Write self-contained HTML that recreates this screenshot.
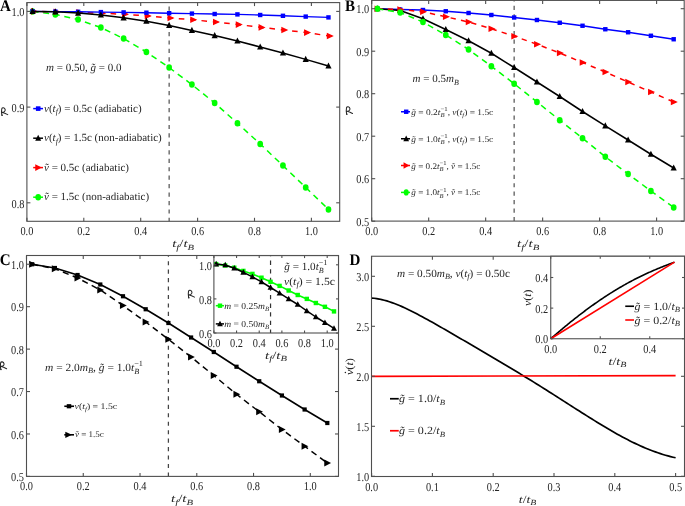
<!DOCTYPE html>
<html><head><meta charset="utf-8"><style>html,body{margin:0;padding:0;background:#fff;overflow:hidden}svg{display:block}</style></head>
<body><svg width="685" height="506" viewBox="0 0 685 506" text-rendering="geometricPrecision"><defs><filter id="bl" x="0" y="0" width="1" height="1" filterUnits="objectBoundingBox"><feGaussianBlur stdDeviation="0.4"/></filter></defs><g filter="url(#bl)">
<rect width="685" height="506" fill="#fff"/>
<line x1="169.15" y1="2.60" x2="169.15" y2="221.30" stroke="#555" stroke-width="1.25" stroke-dasharray="4.2,4.25" stroke-dashoffset="4.45" />
<polyline points="32.59,11.40 55.35,14.40 78.11,19.50 100.87,27.60 123.63,38.60 146.39,52.00 169.15,67.60 191.91,84.60 214.67,103.00 237.43,123.20 260.19,144.00 282.95,165.60 305.71,187.40 328.47,209.40" fill="none" stroke="#00ff00" stroke-width="1.5" stroke-dasharray="6,4.7" stroke-dashoffset="0.0" stroke-linejoin="round"/>
<ellipse cx="32.59" cy="11.40" rx="2.85" ry="3.25" fill="#00ff00"/>
<ellipse cx="55.35" cy="14.40" rx="2.85" ry="3.25" fill="#00ff00"/>
<ellipse cx="78.11" cy="19.50" rx="2.85" ry="3.25" fill="#00ff00"/>
<ellipse cx="100.87" cy="27.60" rx="2.85" ry="3.25" fill="#00ff00"/>
<ellipse cx="123.63" cy="38.60" rx="2.85" ry="3.25" fill="#00ff00"/>
<ellipse cx="146.39" cy="52.00" rx="2.85" ry="3.25" fill="#00ff00"/>
<ellipse cx="169.15" cy="67.60" rx="2.85" ry="3.25" fill="#00ff00"/>
<ellipse cx="191.91" cy="84.60" rx="2.85" ry="3.25" fill="#00ff00"/>
<ellipse cx="214.67" cy="103.00" rx="2.85" ry="3.25" fill="#00ff00"/>
<ellipse cx="237.43" cy="123.20" rx="2.85" ry="3.25" fill="#00ff00"/>
<ellipse cx="260.19" cy="144.00" rx="2.85" ry="3.25" fill="#00ff00"/>
<ellipse cx="282.95" cy="165.60" rx="2.85" ry="3.25" fill="#00ff00"/>
<ellipse cx="305.71" cy="187.40" rx="2.85" ry="3.25" fill="#00ff00"/>
<ellipse cx="328.47" cy="209.40" rx="2.85" ry="3.25" fill="#00ff00"/>
<polyline points="33.59,11.40 56.35,11.80 79.11,12.40 101.87,13.20 124.63,14.30 147.39,15.90 170.15,18.00 192.91,19.80 215.67,22.00 238.43,24.60 261.19,27.40 283.95,30.00 306.71,32.60 329.47,36.00" fill="none" stroke="#ff0000" stroke-width="1.5" stroke-dasharray="5.6,5.8" stroke-dashoffset="2.8" stroke-linejoin="round"/>
<polygon points="37.94,11.40 30.94,8.10 30.94,14.70" fill="#ff0000"/>
<polygon points="60.70,11.80 53.70,8.50 53.70,15.10" fill="#ff0000"/>
<polygon points="83.46,12.40 76.46,9.10 76.46,15.70" fill="#ff0000"/>
<polygon points="106.22,13.20 99.22,9.90 99.22,16.50" fill="#ff0000"/>
<polygon points="128.98,14.30 121.98,11.00 121.98,17.60" fill="#ff0000"/>
<polygon points="151.74,15.90 144.74,12.60 144.74,19.20" fill="#ff0000"/>
<polygon points="174.50,18.00 167.50,14.70 167.50,21.30" fill="#ff0000"/>
<polygon points="197.26,19.80 190.26,16.50 190.26,23.10" fill="#ff0000"/>
<polygon points="220.02,22.00 213.02,18.70 213.02,25.30" fill="#ff0000"/>
<polygon points="242.78,24.60 235.78,21.30 235.78,27.90" fill="#ff0000"/>
<polygon points="265.54,27.40 258.54,24.10 258.54,30.70" fill="#ff0000"/>
<polygon points="288.30,30.00 281.30,26.70 281.30,33.30" fill="#ff0000"/>
<polygon points="311.06,32.60 304.06,29.30 304.06,35.90" fill="#ff0000"/>
<polygon points="333.82,36.00 326.82,32.70 326.82,39.30" fill="#ff0000"/>
<polyline points="32.59,11.40 55.35,11.60 78.11,11.80 100.87,12.10 123.63,12.40 146.39,12.70 169.15,13.20 191.91,13.60 214.67,14.00 237.43,14.40 260.19,15.00 282.95,15.80 305.71,16.60 328.47,17.40" fill="none" stroke="#0000ff" stroke-width="1.4" stroke-linejoin="round"/>
<rect x="30.39" y="9.20" width="4.40" height="4.40" fill="#0000ff"/>
<rect x="53.15" y="9.40" width="4.40" height="4.40" fill="#0000ff"/>
<rect x="75.91" y="9.60" width="4.40" height="4.40" fill="#0000ff"/>
<rect x="98.67" y="9.90" width="4.40" height="4.40" fill="#0000ff"/>
<rect x="121.43" y="10.20" width="4.40" height="4.40" fill="#0000ff"/>
<rect x="144.19" y="10.50" width="4.40" height="4.40" fill="#0000ff"/>
<rect x="166.95" y="11.00" width="4.40" height="4.40" fill="#0000ff"/>
<rect x="189.71" y="11.40" width="4.40" height="4.40" fill="#0000ff"/>
<rect x="212.47" y="11.80" width="4.40" height="4.40" fill="#0000ff"/>
<rect x="235.23" y="12.20" width="4.40" height="4.40" fill="#0000ff"/>
<rect x="257.99" y="12.80" width="4.40" height="4.40" fill="#0000ff"/>
<rect x="280.75" y="13.60" width="4.40" height="4.40" fill="#0000ff"/>
<rect x="303.51" y="14.40" width="4.40" height="4.40" fill="#0000ff"/>
<rect x="326.27" y="15.20" width="4.40" height="4.40" fill="#0000ff"/>
<polyline points="32.59,11.40 55.35,11.80 78.11,13.10 100.87,15.00 123.63,17.80 146.39,21.20 169.15,25.40 191.91,30.40 214.67,35.60 237.43,41.00 260.19,47.00 282.95,53.00 305.71,59.40 328.47,66.00" fill="none" stroke="#000000" stroke-width="1.5" stroke-linejoin="round"/>
<polygon points="32.59,7.80 35.69,14.00 29.49,14.00" fill="#000000"/>
<polygon points="55.35,8.20 58.45,14.40 52.25,14.40" fill="#000000"/>
<polygon points="78.11,9.50 81.21,15.70 75.01,15.70" fill="#000000"/>
<polygon points="100.87,11.40 103.97,17.60 97.77,17.60" fill="#000000"/>
<polygon points="123.63,14.20 126.73,20.40 120.53,20.40" fill="#000000"/>
<polygon points="146.39,17.60 149.49,23.80 143.29,23.80" fill="#000000"/>
<polygon points="169.15,21.80 172.25,28.00 166.05,28.00" fill="#000000"/>
<polygon points="191.91,26.80 195.01,33.00 188.81,33.00" fill="#000000"/>
<polygon points="214.67,32.00 217.77,38.20 211.57,38.20" fill="#000000"/>
<polygon points="237.43,37.40 240.53,43.60 234.33,43.60" fill="#000000"/>
<polygon points="260.19,43.40 263.29,49.60 257.09,49.60" fill="#000000"/>
<polygon points="282.95,49.40 286.05,55.60 279.85,55.60" fill="#000000"/>
<polygon points="305.71,55.80 308.81,62.00 302.61,62.00" fill="#000000"/>
<polygon points="328.47,62.40 331.57,68.60 325.37,68.60" fill="#000000"/>
<rect x="26.90" y="2.60" width="312.80" height="218.70" fill="none" stroke="#505050" stroke-width="1.1"/>
<line x1="26.90" y1="221.30" x2="26.90" y2="217.80" stroke="#505050" stroke-width="1.1" />
<line x1="26.90" y1="2.60" x2="26.90" y2="6.10" stroke="#505050" stroke-width="1.1" />
<line x1="83.80" y1="221.30" x2="83.80" y2="217.80" stroke="#505050" stroke-width="1.1" />
<line x1="83.80" y1="2.60" x2="83.80" y2="6.10" stroke="#505050" stroke-width="1.1" />
<line x1="140.70" y1="221.30" x2="140.70" y2="217.80" stroke="#505050" stroke-width="1.1" />
<line x1="140.70" y1="2.60" x2="140.70" y2="6.10" stroke="#505050" stroke-width="1.1" />
<line x1="197.60" y1="221.30" x2="197.60" y2="217.80" stroke="#505050" stroke-width="1.1" />
<line x1="197.60" y1="2.60" x2="197.60" y2="6.10" stroke="#505050" stroke-width="1.1" />
<line x1="254.50" y1="221.30" x2="254.50" y2="217.80" stroke="#505050" stroke-width="1.1" />
<line x1="254.50" y1="2.60" x2="254.50" y2="6.10" stroke="#505050" stroke-width="1.1" />
<line x1="311.40" y1="221.30" x2="311.40" y2="217.80" stroke="#505050" stroke-width="1.1" />
<line x1="311.40" y1="2.60" x2="311.40" y2="6.10" stroke="#505050" stroke-width="1.1" />
<line x1="26.90" y1="202.80" x2="30.40" y2="202.80" stroke="#505050" stroke-width="1.1" />
<line x1="339.70" y1="202.80" x2="336.20" y2="202.80" stroke="#505050" stroke-width="1.1" />
<line x1="26.90" y1="107.10" x2="30.40" y2="107.10" stroke="#505050" stroke-width="1.1" />
<line x1="339.70" y1="107.10" x2="336.20" y2="107.10" stroke="#505050" stroke-width="1.1" />
<line x1="26.90" y1="11.40" x2="30.40" y2="11.40" stroke="#505050" stroke-width="1.1" />
<line x1="339.70" y1="11.40" x2="336.20" y2="11.40" stroke="#505050" stroke-width="1.1" />
<text transform="translate(24.50,207.50) scale(0.86,1)" font-family="Liberation Serif" font-size="12" fill="#262626" text-anchor="end">0.8</text>
<text transform="translate(24.50,111.80) scale(0.86,1)" font-family="Liberation Serif" font-size="12" fill="#262626" text-anchor="end">0.9</text>
<text transform="translate(24.50,16.10) scale(0.86,1)" font-family="Liberation Serif" font-size="12" fill="#262626" text-anchor="end">1.0</text>
<text transform="translate(26.90,235.20) scale(0.86,1)" font-family="Liberation Serif" font-size="12" fill="#262626" text-anchor="middle">0.0</text>
<text transform="translate(83.80,235.20) scale(0.86,1)" font-family="Liberation Serif" font-size="12" fill="#262626" text-anchor="middle">0.2</text>
<text transform="translate(140.70,235.20) scale(0.86,1)" font-family="Liberation Serif" font-size="12" fill="#262626" text-anchor="middle">0.4</text>
<text transform="translate(197.60,235.20) scale(0.86,1)" font-family="Liberation Serif" font-size="12" fill="#262626" text-anchor="middle">0.6</text>
<text transform="translate(254.50,235.20) scale(0.86,1)" font-family="Liberation Serif" font-size="12" fill="#262626" text-anchor="middle">0.8</text>
<text transform="translate(311.40,235.20) scale(0.86,1)" font-family="Liberation Serif" font-size="12" fill="#262626" text-anchor="middle">1.0</text>
<text transform="translate(0.00,10.60) scale(0.93,1)" font-family="Liberation Serif" font-weight="bold" font-size="16.2" fill="#000">A</text>
<text x="183.20" y="247.30" font-family="Liberation Serif" font-size="11" fill="#262626" text-anchor="middle" textLength="22" lengthAdjust="spacingAndGlyphs" xml:space="preserve" ><tspan font-style="italic">t</tspan><tspan dy="2.42" font-size="7.92" font-style="italic">f</tspan><tspan dy="-2.42">/</tspan><tspan font-style="italic">t</tspan><tspan dy="2.42" font-size="7.92" font-style="italic">B</tspan></text>
<g transform="translate(4.75,111.70)"><path d="M-2.85,3.6 C-3.2,1.5 -3.3,-1.5 -3.0,-2.9 C-2.6,-4.4 0.0,-4.4 0.45,-2.0 C0.75,-0.4 -1.0,0.8 -2.7,0.55 M-2.3,0.7 C-0.5,1.1 1.3,2.0 3.0,2.9" fill="none" stroke="#262626" stroke-width="1.05" stroke-linecap="round"/><circle cx="-2.6" cy="3.6" r="0.75" fill="#262626"/></g>
<text x="46.00" y="70.60" font-family="Liberation Serif" font-size="11" fill="#262626" text-anchor="start" xml:space="preserve" ><tspan font-style="italic">m</tspan><tspan> = 0.50, </tspan><tspan font-style="italic">g</tspan><tspan dx="-4.87" font-style="italic">˜</tspan><tspan dx="1.21"> = 0.0</tspan></text>
<line x1="33.20" y1="108.60" x2="43.00" y2="108.60" stroke="#0000ff" stroke-width="1.5" />
<rect x="35.90" y="106.30" width="4.60" height="4.60" fill="#0000ff"/>
<text x="44.00" y="111.70" font-family="Liberation Serif" font-size="11" fill="#262626" text-anchor="start" xml:space="preserve" ><tspan font-style="italic">v</tspan><tspan>(</tspan><tspan font-style="italic">t</tspan><tspan dy="2.42" font-size="7.92" font-style="italic">f</tspan><tspan dy="-2.42">) = 0.5c (adiabatic)</tspan></text>
<line x1="33.20" y1="138.20" x2="43.00" y2="138.20" stroke="#000000" stroke-width="1.5" />
<polygon points="38.20,134.66 41.20,140.76 35.20,140.76" fill="#000000"/>
<text x="44.00" y="141.30" font-family="Liberation Serif" font-size="11" fill="#262626" text-anchor="start" xml:space="preserve" ><tspan font-style="italic">v</tspan><tspan>(</tspan><tspan font-style="italic">t</tspan><tspan dy="2.42" font-size="7.92" font-style="italic">f</tspan><tspan dy="-2.42">) = 1.5c (non-adiabatic)</tspan></text>
<line x1="33.20" y1="167.60" x2="43.00" y2="167.60" stroke="#ff0000" stroke-width="1.5" />
<polygon points="41.83,167.60 35.23,164.15 35.23,171.05" fill="#ff0000"/>
<text x="44.00" y="170.70" font-family="Liberation Serif" font-size="11" fill="#262626" text-anchor="start" xml:space="preserve" ><tspan font-style="italic">v</tspan><tspan dx="-4.32" font-style="italic">˜</tspan><tspan dx="0.66"> = 0.5c (adiabatic)</tspan></text>
<line x1="33.20" y1="197.20" x2="43.00" y2="197.20" stroke="#00ff00" stroke-width="1.5" />
<ellipse cx="38.20" cy="197.20" rx="2.85" ry="3.25" fill="#00ff00"/>
<text x="44.00" y="200.30" font-family="Liberation Serif" font-size="11" fill="#262626" text-anchor="start" xml:space="preserve" ><tspan font-style="italic">v</tspan><tspan dx="-4.32" font-style="italic">˜</tspan><tspan dx="0.66"> = 1.5c (non-adiabatic)</tspan></text>
<line x1="514.15" y1="0.40" x2="514.15" y2="221.10" stroke="#555" stroke-width="1.25" stroke-dasharray="4.2,4.25" stroke-dashoffset="3.15" />
<polyline points="377.40,8.75 400.19,9.50 422.98,10.00 445.77,11.25 468.57,13.00 491.36,15.00 514.15,17.50 536.94,20.00 559.73,22.75 582.53,25.75 605.32,29.25 628.11,32.25 650.90,35.75 673.69,39.25" fill="none" stroke="#0000ff" stroke-width="1.4" stroke-linejoin="round"/>
<rect x="375.20" y="6.55" width="4.40" height="4.40" fill="#0000ff"/>
<rect x="397.99" y="7.30" width="4.40" height="4.40" fill="#0000ff"/>
<rect x="420.78" y="7.80" width="4.40" height="4.40" fill="#0000ff"/>
<rect x="443.57" y="9.05" width="4.40" height="4.40" fill="#0000ff"/>
<rect x="466.37" y="10.80" width="4.40" height="4.40" fill="#0000ff"/>
<rect x="489.16" y="12.80" width="4.40" height="4.40" fill="#0000ff"/>
<rect x="511.95" y="15.30" width="4.40" height="4.40" fill="#0000ff"/>
<rect x="534.74" y="17.80" width="4.40" height="4.40" fill="#0000ff"/>
<rect x="557.53" y="20.55" width="4.40" height="4.40" fill="#0000ff"/>
<rect x="580.33" y="23.55" width="4.40" height="4.40" fill="#0000ff"/>
<rect x="603.12" y="27.05" width="4.40" height="4.40" fill="#0000ff"/>
<rect x="625.91" y="30.05" width="4.40" height="4.40" fill="#0000ff"/>
<rect x="648.70" y="33.55" width="4.40" height="4.40" fill="#0000ff"/>
<rect x="671.49" y="37.05" width="4.40" height="4.40" fill="#0000ff"/>
<polyline points="377.40,8.75 400.19,10.50 422.98,18.75 445.77,29.50 468.57,40.75 491.36,53.25 514.15,67.50 536.94,82.00 559.73,96.50 582.53,111.50 605.32,125.80 628.11,140.00 650.90,154.25 673.69,168.00" fill="none" stroke="#000000" stroke-width="1.5" stroke-linejoin="round"/>
<polygon points="377.40,5.15 380.50,11.35 374.30,11.35" fill="#000000"/>
<polygon points="400.19,6.90 403.29,13.10 397.09,13.10" fill="#000000"/>
<polygon points="422.98,15.15 426.08,21.35 419.88,21.35" fill="#000000"/>
<polygon points="445.77,25.90 448.87,32.10 442.67,32.10" fill="#000000"/>
<polygon points="468.57,37.15 471.67,43.35 465.47,43.35" fill="#000000"/>
<polygon points="491.36,49.65 494.46,55.85 488.26,55.85" fill="#000000"/>
<polygon points="514.15,63.90 517.25,70.10 511.05,70.10" fill="#000000"/>
<polygon points="536.94,78.40 540.04,84.60 533.84,84.60" fill="#000000"/>
<polygon points="559.73,92.90 562.83,99.10 556.63,99.10" fill="#000000"/>
<polygon points="582.53,107.90 585.63,114.10 579.43,114.10" fill="#000000"/>
<polygon points="605.32,122.20 608.42,128.40 602.22,128.40" fill="#000000"/>
<polygon points="628.11,136.40 631.21,142.60 625.01,142.60" fill="#000000"/>
<polygon points="650.90,150.65 654.00,156.85 647.80,156.85" fill="#000000"/>
<polygon points="673.69,164.40 676.79,170.60 670.59,170.60" fill="#000000"/>
<polyline points="377.40,8.75 400.19,9.50 422.98,11.75 445.77,16.75 468.57,22.00 491.36,28.75 514.15,36.25 536.94,44.25 559.73,53.00 582.53,62.50 605.32,72.00 628.11,82.00 650.90,92.00 673.69,102.00" fill="none" stroke="#ff0000" stroke-width="1.5" stroke-dasharray="5.3,5.3" stroke-dashoffset="0.2" stroke-linejoin="round"/>
<polygon points="381.55,8.75 374.55,5.45 374.55,12.05" fill="#ff0000"/>
<polygon points="404.34,9.50 397.34,6.20 397.34,12.80" fill="#ff0000"/>
<polygon points="427.13,11.75 420.13,8.45 420.13,15.05" fill="#ff0000"/>
<polygon points="449.92,16.75 442.92,13.45 442.92,20.05" fill="#ff0000"/>
<polygon points="472.72,22.00 465.72,18.70 465.72,25.30" fill="#ff0000"/>
<polygon points="495.51,28.75 488.51,25.45 488.51,32.05" fill="#ff0000"/>
<polygon points="518.30,36.25 511.30,32.95 511.30,39.55" fill="#ff0000"/>
<polygon points="541.09,44.25 534.09,40.95 534.09,47.55" fill="#ff0000"/>
<polygon points="563.88,53.00 556.88,49.70 556.88,56.30" fill="#ff0000"/>
<polygon points="586.68,62.50 579.68,59.20 579.68,65.80" fill="#ff0000"/>
<polygon points="609.47,72.00 602.47,68.70 602.47,75.30" fill="#ff0000"/>
<polygon points="632.26,82.00 625.26,78.70 625.26,85.30" fill="#ff0000"/>
<polygon points="655.05,92.00 648.05,88.70 648.05,95.30" fill="#ff0000"/>
<polygon points="677.84,102.00 670.84,98.70 670.84,105.30" fill="#ff0000"/>
<polyline points="377.40,8.75 400.19,12.50 422.98,22.00 445.77,35.00 468.57,49.50 491.36,66.25 514.15,83.75 536.94,101.90 559.73,120.20 582.53,138.25 605.32,156.75 628.11,174.00 650.90,191.00 673.69,207.50" fill="none" stroke="#00ff00" stroke-width="1.5" stroke-dasharray="6,4.7" stroke-dashoffset="0.0" stroke-linejoin="round"/>
<ellipse cx="377.40" cy="8.75" rx="2.85" ry="3.25" fill="#00ff00"/>
<ellipse cx="400.19" cy="12.50" rx="2.85" ry="3.25" fill="#00ff00"/>
<ellipse cx="422.98" cy="22.00" rx="2.85" ry="3.25" fill="#00ff00"/>
<ellipse cx="445.77" cy="35.00" rx="2.85" ry="3.25" fill="#00ff00"/>
<ellipse cx="468.57" cy="49.50" rx="2.85" ry="3.25" fill="#00ff00"/>
<ellipse cx="491.36" cy="66.25" rx="2.85" ry="3.25" fill="#00ff00"/>
<ellipse cx="514.15" cy="83.75" rx="2.85" ry="3.25" fill="#00ff00"/>
<ellipse cx="536.94" cy="101.90" rx="2.85" ry="3.25" fill="#00ff00"/>
<ellipse cx="559.73" cy="120.20" rx="2.85" ry="3.25" fill="#00ff00"/>
<ellipse cx="582.53" cy="138.25" rx="2.85" ry="3.25" fill="#00ff00"/>
<ellipse cx="605.32" cy="156.75" rx="2.85" ry="3.25" fill="#00ff00"/>
<ellipse cx="628.11" cy="174.00" rx="2.85" ry="3.25" fill="#00ff00"/>
<ellipse cx="650.90" cy="191.00" rx="2.85" ry="3.25" fill="#00ff00"/>
<ellipse cx="673.69" cy="207.50" rx="2.85" ry="3.25" fill="#00ff00"/>
<rect x="371.70" y="0.40" width="312.50" height="220.70" fill="none" stroke="#505050" stroke-width="1.1"/>
<line x1="371.70" y1="221.10" x2="371.70" y2="217.60" stroke="#505050" stroke-width="1.1" />
<line x1="371.70" y1="0.40" x2="371.70" y2="3.90" stroke="#505050" stroke-width="1.1" />
<line x1="428.68" y1="221.10" x2="428.68" y2="217.60" stroke="#505050" stroke-width="1.1" />
<line x1="428.68" y1="0.40" x2="428.68" y2="3.90" stroke="#505050" stroke-width="1.1" />
<line x1="485.66" y1="221.10" x2="485.66" y2="217.60" stroke="#505050" stroke-width="1.1" />
<line x1="485.66" y1="0.40" x2="485.66" y2="3.90" stroke="#505050" stroke-width="1.1" />
<line x1="542.64" y1="221.10" x2="542.64" y2="217.60" stroke="#505050" stroke-width="1.1" />
<line x1="542.64" y1="0.40" x2="542.64" y2="3.90" stroke="#505050" stroke-width="1.1" />
<line x1="599.62" y1="221.10" x2="599.62" y2="217.60" stroke="#505050" stroke-width="1.1" />
<line x1="599.62" y1="0.40" x2="599.62" y2="3.90" stroke="#505050" stroke-width="1.1" />
<line x1="656.60" y1="221.10" x2="656.60" y2="217.60" stroke="#505050" stroke-width="1.1" />
<line x1="656.60" y1="0.40" x2="656.60" y2="3.90" stroke="#505050" stroke-width="1.1" />
<line x1="371.70" y1="221.20" x2="375.20" y2="221.20" stroke="#505050" stroke-width="1.1" />
<line x1="684.20" y1="221.20" x2="680.70" y2="221.20" stroke="#505050" stroke-width="1.1" />
<line x1="371.70" y1="178.70" x2="375.20" y2="178.70" stroke="#505050" stroke-width="1.1" />
<line x1="684.20" y1="178.70" x2="680.70" y2="178.70" stroke="#505050" stroke-width="1.1" />
<line x1="371.70" y1="136.20" x2="375.20" y2="136.20" stroke="#505050" stroke-width="1.1" />
<line x1="684.20" y1="136.20" x2="680.70" y2="136.20" stroke="#505050" stroke-width="1.1" />
<line x1="371.70" y1="93.70" x2="375.20" y2="93.70" stroke="#505050" stroke-width="1.1" />
<line x1="684.20" y1="93.70" x2="680.70" y2="93.70" stroke="#505050" stroke-width="1.1" />
<line x1="371.70" y1="51.20" x2="375.20" y2="51.20" stroke="#505050" stroke-width="1.1" />
<line x1="684.20" y1="51.20" x2="680.70" y2="51.20" stroke="#505050" stroke-width="1.1" />
<line x1="371.70" y1="8.70" x2="375.20" y2="8.70" stroke="#505050" stroke-width="1.1" />
<line x1="684.20" y1="8.70" x2="680.70" y2="8.70" stroke="#505050" stroke-width="1.1" />
<text transform="translate(369.20,225.90) scale(0.86,1)" font-family="Liberation Serif" font-size="12" fill="#262626" text-anchor="end">0.5</text>
<text transform="translate(369.20,183.40) scale(0.86,1)" font-family="Liberation Serif" font-size="12" fill="#262626" text-anchor="end">0.6</text>
<text transform="translate(369.20,140.90) scale(0.86,1)" font-family="Liberation Serif" font-size="12" fill="#262626" text-anchor="end">0.7</text>
<text transform="translate(369.20,98.40) scale(0.86,1)" font-family="Liberation Serif" font-size="12" fill="#262626" text-anchor="end">0.8</text>
<text transform="translate(369.20,55.90) scale(0.86,1)" font-family="Liberation Serif" font-size="12" fill="#262626" text-anchor="end">0.9</text>
<text transform="translate(369.20,13.40) scale(0.86,1)" font-family="Liberation Serif" font-size="12" fill="#262626" text-anchor="end">1.0</text>
<text transform="translate(371.70,235.20) scale(0.86,1)" font-family="Liberation Serif" font-size="12" fill="#262626" text-anchor="middle">0.0</text>
<text transform="translate(428.68,235.20) scale(0.86,1)" font-family="Liberation Serif" font-size="12" fill="#262626" text-anchor="middle">0.2</text>
<text transform="translate(485.66,235.20) scale(0.86,1)" font-family="Liberation Serif" font-size="12" fill="#262626" text-anchor="middle">0.4</text>
<text transform="translate(542.64,235.20) scale(0.86,1)" font-family="Liberation Serif" font-size="12" fill="#262626" text-anchor="middle">0.6</text>
<text transform="translate(599.62,235.20) scale(0.86,1)" font-family="Liberation Serif" font-size="12" fill="#262626" text-anchor="middle">0.8</text>
<text transform="translate(656.60,235.20) scale(0.86,1)" font-family="Liberation Serif" font-size="12" fill="#262626" text-anchor="middle">1.0</text>
<text transform="translate(345.00,10.60) scale(0.93,1)" font-family="Liberation Serif" font-weight="bold" font-size="16.2" fill="#000">B</text>
<text x="528.20" y="247.30" font-family="Liberation Serif" font-size="11" fill="#262626" text-anchor="middle" textLength="22.3" lengthAdjust="spacingAndGlyphs" xml:space="preserve" ><tspan font-style="italic">t</tspan><tspan dy="2.42" font-size="7.92" font-style="italic">f</tspan><tspan dy="-2.42">/</tspan><tspan font-style="italic">t</tspan><tspan dy="2.42" font-size="7.92" font-style="italic">B</tspan></text>
<g transform="translate(349.50,110.65)"><path d="M-2.85,3.6 C-3.2,1.5 -3.3,-1.5 -3.0,-2.9 C-2.6,-4.4 0.0,-4.4 0.45,-2.0 C0.75,-0.4 -1.0,0.8 -2.7,0.55 M-2.3,0.7 C-0.5,1.1 1.3,2.0 3.0,2.9" fill="none" stroke="#262626" stroke-width="1.05" stroke-linecap="round"/><circle cx="-2.6" cy="3.6" r="0.75" fill="#262626"/></g>
<text x="412.50" y="82.30" font-family="Liberation Serif" font-size="11" fill="#262626" text-anchor="start" xml:space="preserve" ><tspan font-style="italic">m</tspan><tspan> = 0.5</tspan><tspan font-style="italic">m</tspan><tspan dy="2.42" font-size="7.92" font-style="italic">B</tspan></text>
<line x1="401.00" y1="111.75" x2="410.00" y2="111.75" stroke="#0000ff" stroke-width="1.5" />
<rect x="404.00" y="109.55" width="4.40" height="4.40" fill="#0000ff"/>
<text x="411.30" y="114.75" font-family="Liberation Serif" font-size="8.6" fill="#262626" text-anchor="start" textLength="82.0" lengthAdjust="spacingAndGlyphs" xml:space="preserve" ><tspan font-style="italic">g</tspan><tspan dx="-3.81" font-style="italic">˜</tspan><tspan dx="0.95"> = 0.2</tspan><tspan font-style="italic">t</tspan><tspan dy="2.58" font-size="6.19" font-style="italic">B</tspan><tspan dx="-3.78" dy="-6.45" font-size="6.19">−1</tspan><tspan dy="3.87">, </tspan><tspan font-style="italic">v</tspan><tspan>(</tspan><tspan font-style="italic">t</tspan><tspan dy="1.89" font-size="6.19" font-style="italic">f</tspan><tspan dy="-1.89">) = 1.5c</tspan></text>
<line x1="401.00" y1="138.75" x2="410.00" y2="138.75" stroke="#000000" stroke-width="1.5" />
<polygon points="406.20,135.39 409.10,141.19 403.30,141.19" fill="#000000"/>
<text x="411.30" y="141.75" font-family="Liberation Serif" font-size="8.6" fill="#262626" text-anchor="start" textLength="82.0" lengthAdjust="spacingAndGlyphs" xml:space="preserve" ><tspan font-style="italic">g</tspan><tspan dx="-3.81" font-style="italic">˜</tspan><tspan dx="0.95"> = 1.0</tspan><tspan font-style="italic">t</tspan><tspan dy="2.58" font-size="6.19" font-style="italic">B</tspan><tspan dx="-3.78" dy="-6.45" font-size="6.19">−1</tspan><tspan dy="3.87">, </tspan><tspan font-style="italic">v</tspan><tspan>(</tspan><tspan font-style="italic">t</tspan><tspan dy="1.89" font-size="6.19" font-style="italic">f</tspan><tspan dy="-1.89">) = 1.5c</tspan></text>
<line x1="401.00" y1="165.50" x2="410.00" y2="165.50" stroke="#ff0000" stroke-width="1.5" />
<polygon points="409.39,165.50 403.59,162.15 403.59,168.85" fill="#ff0000"/>
<text x="411.30" y="168.50" font-family="Liberation Serif" font-size="8.6" fill="#262626" text-anchor="start" textLength="69.0" lengthAdjust="spacingAndGlyphs" xml:space="preserve" ><tspan font-style="italic">g</tspan><tspan dx="-3.81" font-style="italic">˜</tspan><tspan dx="0.95"> = 0.2</tspan><tspan font-style="italic">t</tspan><tspan dy="2.58" font-size="6.19" font-style="italic">B</tspan><tspan dx="-3.78" dy="-6.45" font-size="6.19">−1</tspan><tspan dy="3.87">, </tspan><tspan font-style="italic">v</tspan><tspan dx="-3.38" font-style="italic">˜</tspan><tspan dx="0.51"> = 1.5c</tspan></text>
<line x1="401.00" y1="192.40" x2="410.00" y2="192.40" stroke="#00ff00" stroke-width="1.5" />
<ellipse cx="406.20" cy="192.40" rx="2.50" ry="3.10" fill="#00ff00"/>
<text x="411.30" y="195.40" font-family="Liberation Serif" font-size="8.6" fill="#262626" text-anchor="start" textLength="69.0" lengthAdjust="spacingAndGlyphs" xml:space="preserve" ><tspan font-style="italic">g</tspan><tspan dx="-3.81" font-style="italic">˜</tspan><tspan dx="0.95"> = 1.0</tspan><tspan font-style="italic">t</tspan><tspan dy="2.58" font-size="6.19" font-style="italic">B</tspan><tspan dx="-3.78" dy="-6.45" font-size="6.19">−1</tspan><tspan dy="3.87">, </tspan><tspan font-style="italic">v</tspan><tspan dx="-3.38" font-style="italic">˜</tspan><tspan dx="0.51"> = 1.5c</tspan></text>
<line x1="168.40" y1="255.50" x2="168.40" y2="476.40" stroke="#444" stroke-width="1.25" stroke-dasharray="4.1,4.35" stroke-dashoffset="2.8" />
<polyline points="32.18,264.25 54.88,268.75 77.58,278.00 100.29,290.00 122.99,305.50 145.70,322.00 168.40,339.25 191.10,357.00 213.81,375.50 236.51,394.25 259.22,411.75 281.92,429.50 304.62,446.25 327.33,463.00" fill="none" stroke="#000000" stroke-width="1.5" stroke-dasharray="6.2,4.4" stroke-dashoffset="0" stroke-linejoin="round"/>
<polygon points="35.92,264.25 29.12,260.65 29.12,267.85" fill="#000000"/>
<polygon points="58.62,268.75 51.82,265.15 51.82,272.35" fill="#000000"/>
<polygon points="81.32,278.00 74.52,274.40 74.52,281.60" fill="#000000"/>
<polygon points="104.03,290.00 97.23,286.40 97.23,293.60" fill="#000000"/>
<polygon points="126.73,305.50 119.93,301.90 119.93,309.10" fill="#000000"/>
<polygon points="149.44,322.00 142.64,318.40 142.64,325.60" fill="#000000"/>
<polygon points="172.14,339.25 165.34,335.65 165.34,342.85" fill="#000000"/>
<polygon points="194.84,357.00 188.04,353.40 188.04,360.60" fill="#000000"/>
<polygon points="217.55,375.50 210.75,371.90 210.75,379.10" fill="#000000"/>
<polygon points="240.25,394.25 233.45,390.65 233.45,397.85" fill="#000000"/>
<polygon points="262.96,411.75 256.16,408.15 256.16,415.35" fill="#000000"/>
<polygon points="285.66,429.50 278.86,425.90 278.86,433.10" fill="#000000"/>
<polygon points="308.36,446.25 301.56,442.65 301.56,449.85" fill="#000000"/>
<polygon points="331.07,463.00 324.27,459.40 324.27,466.60" fill="#000000"/>
<polyline points="32.18,264.25 54.88,268.00 77.58,275.00 100.29,284.50 122.99,296.25 145.70,309.25 168.40,323.00 191.10,337.50 213.81,352.00 236.51,366.75 259.22,381.25 281.92,395.50 304.62,409.50 327.33,423.00" fill="none" stroke="#000000" stroke-width="1.6" stroke-linejoin="round"/>
<rect x="30.08" y="262.15" width="4.20" height="4.20" fill="#000000"/>
<rect x="52.78" y="265.90" width="4.20" height="4.20" fill="#000000"/>
<rect x="75.48" y="272.90" width="4.20" height="4.20" fill="#000000"/>
<rect x="98.19" y="282.40" width="4.20" height="4.20" fill="#000000"/>
<rect x="120.89" y="294.15" width="4.20" height="4.20" fill="#000000"/>
<rect x="143.60" y="307.15" width="4.20" height="4.20" fill="#000000"/>
<rect x="166.30" y="320.90" width="4.20" height="4.20" fill="#000000"/>
<rect x="189.00" y="335.40" width="4.20" height="4.20" fill="#000000"/>
<rect x="211.71" y="349.90" width="4.20" height="4.20" fill="#000000"/>
<rect x="234.41" y="364.65" width="4.20" height="4.20" fill="#000000"/>
<rect x="257.12" y="379.15" width="4.20" height="4.20" fill="#000000"/>
<rect x="279.82" y="393.40" width="4.20" height="4.20" fill="#000000"/>
<rect x="302.52" y="407.40" width="4.20" height="4.20" fill="#000000"/>
<rect x="325.23" y="420.90" width="4.20" height="4.20" fill="#000000"/>
<rect x="26.50" y="255.50" width="312.00" height="220.90" fill="none" stroke="#505050" stroke-width="1.1"/>
<line x1="26.50" y1="476.40" x2="26.50" y2="472.90" stroke="#505050" stroke-width="1.1" />
<line x1="26.50" y1="255.50" x2="26.50" y2="259.00" stroke="#505050" stroke-width="1.1" />
<line x1="83.26" y1="476.40" x2="83.26" y2="472.90" stroke="#505050" stroke-width="1.1" />
<line x1="83.26" y1="255.50" x2="83.26" y2="259.00" stroke="#505050" stroke-width="1.1" />
<line x1="140.02" y1="476.40" x2="140.02" y2="472.90" stroke="#505050" stroke-width="1.1" />
<line x1="140.02" y1="255.50" x2="140.02" y2="259.00" stroke="#505050" stroke-width="1.1" />
<line x1="196.78" y1="476.40" x2="196.78" y2="472.90" stroke="#505050" stroke-width="1.1" />
<line x1="196.78" y1="255.50" x2="196.78" y2="259.00" stroke="#505050" stroke-width="1.1" />
<line x1="253.54" y1="476.40" x2="253.54" y2="472.90" stroke="#505050" stroke-width="1.1" />
<line x1="253.54" y1="255.50" x2="253.54" y2="259.00" stroke="#505050" stroke-width="1.1" />
<line x1="310.30" y1="476.40" x2="310.30" y2="472.90" stroke="#505050" stroke-width="1.1" />
<line x1="310.30" y1="255.50" x2="310.30" y2="259.00" stroke="#505050" stroke-width="1.1" />
<line x1="26.50" y1="476.40" x2="30.00" y2="476.40" stroke="#505050" stroke-width="1.1" />
<line x1="338.50" y1="476.40" x2="335.00" y2="476.40" stroke="#505050" stroke-width="1.1" />
<line x1="26.50" y1="433.97" x2="30.00" y2="433.97" stroke="#505050" stroke-width="1.1" />
<line x1="338.50" y1="433.97" x2="335.00" y2="433.97" stroke="#505050" stroke-width="1.1" />
<line x1="26.50" y1="391.54" x2="30.00" y2="391.54" stroke="#505050" stroke-width="1.1" />
<line x1="338.50" y1="391.54" x2="335.00" y2="391.54" stroke="#505050" stroke-width="1.1" />
<line x1="26.50" y1="349.11" x2="30.00" y2="349.11" stroke="#505050" stroke-width="1.1" />
<line x1="338.50" y1="349.11" x2="335.00" y2="349.11" stroke="#505050" stroke-width="1.1" />
<line x1="26.50" y1="306.68" x2="30.00" y2="306.68" stroke="#505050" stroke-width="1.1" />
<line x1="338.50" y1="306.68" x2="335.00" y2="306.68" stroke="#505050" stroke-width="1.1" />
<line x1="26.50" y1="264.25" x2="30.00" y2="264.25" stroke="#505050" stroke-width="1.1" />
<line x1="338.50" y1="264.25" x2="335.00" y2="264.25" stroke="#505050" stroke-width="1.1" />
<text transform="translate(23.90,481.10) scale(0.86,1)" font-family="Liberation Serif" font-size="12" fill="#262626" text-anchor="end">0.5</text>
<text transform="translate(23.90,438.67) scale(0.86,1)" font-family="Liberation Serif" font-size="12" fill="#262626" text-anchor="end">0.6</text>
<text transform="translate(23.90,396.24) scale(0.86,1)" font-family="Liberation Serif" font-size="12" fill="#262626" text-anchor="end">0.7</text>
<text transform="translate(23.90,353.81) scale(0.86,1)" font-family="Liberation Serif" font-size="12" fill="#262626" text-anchor="end">0.8</text>
<text transform="translate(23.90,311.38) scale(0.86,1)" font-family="Liberation Serif" font-size="12" fill="#262626" text-anchor="end">0.9</text>
<text transform="translate(23.90,268.95) scale(0.86,1)" font-family="Liberation Serif" font-size="12" fill="#262626" text-anchor="end">1.0</text>
<text transform="translate(26.50,490.40) scale(0.86,1)" font-family="Liberation Serif" font-size="12" fill="#262626" text-anchor="middle">0.0</text>
<text transform="translate(83.26,490.40) scale(0.86,1)" font-family="Liberation Serif" font-size="12" fill="#262626" text-anchor="middle">0.2</text>
<text transform="translate(140.02,490.40) scale(0.86,1)" font-family="Liberation Serif" font-size="12" fill="#262626" text-anchor="middle">0.4</text>
<text transform="translate(196.78,490.40) scale(0.86,1)" font-family="Liberation Serif" font-size="12" fill="#262626" text-anchor="middle">0.6</text>
<text transform="translate(253.54,490.40) scale(0.86,1)" font-family="Liberation Serif" font-size="12" fill="#262626" text-anchor="middle">0.8</text>
<text transform="translate(310.30,490.40) scale(0.86,1)" font-family="Liberation Serif" font-size="12" fill="#262626" text-anchor="middle">1.0</text>
<text transform="translate(-0.30,265.40) scale(0.93,1)" font-family="Liberation Serif" font-weight="bold" font-size="16.2" fill="#000">C</text>
<text x="182.10" y="502.40" font-family="Liberation Serif" font-size="11" fill="#262626" text-anchor="middle" textLength="22.2" lengthAdjust="spacingAndGlyphs" xml:space="preserve" ><tspan font-style="italic">t</tspan><tspan dy="2.42" font-size="7.92" font-style="italic">f</tspan><tspan dy="-2.42">/</tspan><tspan font-style="italic">t</tspan><tspan dy="2.42" font-size="7.92" font-style="italic">B</tspan></text>
<g transform="translate(3.60,365.80)"><path d="M-2.85,3.6 C-3.2,1.5 -3.3,-1.5 -3.0,-2.9 C-2.6,-4.4 0.0,-4.4 0.45,-2.0 C0.75,-0.4 -1.0,0.8 -2.7,0.55 M-2.3,0.7 C-0.5,1.1 1.3,2.0 3.0,2.9" fill="none" stroke="#262626" stroke-width="1.05" stroke-linecap="round"/><circle cx="-2.6" cy="3.6" r="0.75" fill="#262626"/></g>
<text x="45.00" y="371.00" font-family="Liberation Serif" font-size="11" fill="#262626" text-anchor="start" textLength="98" lengthAdjust="spacingAndGlyphs" xml:space="preserve" ><tspan font-style="italic">m</tspan><tspan> = 2.0</tspan><tspan font-style="italic">m</tspan><tspan dy="2.42" font-size="7.92" font-style="italic">B</tspan><tspan dy="-2.42">, </tspan><tspan font-style="italic">g</tspan><tspan dx="-4.87" font-style="italic">˜</tspan><tspan dx="1.21"> = 1.0</tspan><tspan font-style="italic">t</tspan><tspan dy="3.30" font-size="7.92" font-style="italic">B</tspan><tspan dx="-4.84" dy="-8.25" font-size="7.92">−1</tspan></text>
<line x1="64.30" y1="406.25" x2="74.00" y2="406.25" stroke="#000000" stroke-width="1.6" />
<rect x="66.75" y="404.15" width="4.50" height="4.20" fill="#000000"/>
<text x="74.60" y="408.85" font-family="Liberation Serif" font-size="8.6" fill="#262626" text-anchor="start" textLength="42.5" lengthAdjust="spacingAndGlyphs" xml:space="preserve" ><tspan font-style="italic">v</tspan><tspan>(</tspan><tspan font-style="italic">t</tspan><tspan dy="1.89" font-size="6.19" font-style="italic">f</tspan><tspan dy="-1.89">) = 1.5c</tspan></text>
<line x1="64.30" y1="434.80" x2="74.00" y2="434.80" stroke="#000000" stroke-width="1.6" />
<polygon points="71.93,434.80 65.33,431.70 65.33,437.90" fill="#000000"/>
<text x="74.90" y="437.40" font-family="Liberation Serif" font-size="8.6" fill="#262626" text-anchor="start" textLength="29.0" lengthAdjust="spacingAndGlyphs" xml:space="preserve" ><tspan font-style="italic">v</tspan><tspan dx="-3.38" font-style="italic">˜</tspan><tspan dx="0.51"> = 1.5c</tspan></text>
<rect x="213.9" y="255.6" width="124.6" height="77.4" fill="#fff"/>
<line x1="270.55" y1="255.60" x2="270.55" y2="333.00" stroke="#333" stroke-width="1.2" stroke-dasharray="4.3,4.3" stroke-dashoffset="3.6" />
<polyline points="216.17,264.10 225.23,265.50 234.29,267.70 243.36,270.90 252.42,273.90 261.49,277.70 270.55,281.80 279.61,285.90 288.68,290.50 297.74,295.00 306.81,298.90 315.87,303.00 324.93,306.80 334.00,311.40" fill="none" stroke="#00ff00" stroke-width="1.6" stroke-linejoin="round"/>
<rect x="213.97" y="261.90" width="4.40" height="4.40" fill="#00ff00"/>
<rect x="223.03" y="263.30" width="4.40" height="4.40" fill="#00ff00"/>
<rect x="232.09" y="265.50" width="4.40" height="4.40" fill="#00ff00"/>
<rect x="241.16" y="268.70" width="4.40" height="4.40" fill="#00ff00"/>
<rect x="250.22" y="271.70" width="4.40" height="4.40" fill="#00ff00"/>
<rect x="259.29" y="275.50" width="4.40" height="4.40" fill="#00ff00"/>
<rect x="268.35" y="279.60" width="4.40" height="4.40" fill="#00ff00"/>
<rect x="277.41" y="283.70" width="4.40" height="4.40" fill="#00ff00"/>
<rect x="286.48" y="288.30" width="4.40" height="4.40" fill="#00ff00"/>
<rect x="295.54" y="292.80" width="4.40" height="4.40" fill="#00ff00"/>
<rect x="304.61" y="296.70" width="4.40" height="4.40" fill="#00ff00"/>
<rect x="313.67" y="300.80" width="4.40" height="4.40" fill="#00ff00"/>
<rect x="322.73" y="304.60" width="4.40" height="4.40" fill="#00ff00"/>
<rect x="331.80" y="309.20" width="4.40" height="4.40" fill="#00ff00"/>
<polyline points="216.17,264.10 225.23,265.00 234.29,268.20 243.36,272.30 252.42,276.80 261.49,281.80 270.55,287.50 279.61,293.20 288.68,298.90 297.74,304.50 306.81,310.90 315.87,317.00 324.93,322.70 334.00,328.40" fill="none" stroke="#000000" stroke-width="1.5" stroke-linejoin="round"/>
<polygon points="216.17,260.85 219.17,266.45 213.17,266.45" fill="#000000"/>
<polygon points="225.23,261.75 228.23,267.35 222.23,267.35" fill="#000000"/>
<polygon points="234.29,264.95 237.29,270.55 231.29,270.55" fill="#000000"/>
<polygon points="243.36,269.05 246.36,274.65 240.36,274.65" fill="#000000"/>
<polygon points="252.42,273.55 255.42,279.15 249.42,279.15" fill="#000000"/>
<polygon points="261.49,278.55 264.49,284.15 258.49,284.15" fill="#000000"/>
<polygon points="270.55,284.25 273.55,289.85 267.55,289.85" fill="#000000"/>
<polygon points="279.61,289.95 282.61,295.55 276.61,295.55" fill="#000000"/>
<polygon points="288.68,295.65 291.68,301.25 285.68,301.25" fill="#000000"/>
<polygon points="297.74,301.25 300.74,306.85 294.74,306.85" fill="#000000"/>
<polygon points="306.81,307.65 309.81,313.25 303.81,313.25" fill="#000000"/>
<polygon points="315.87,313.75 318.87,319.35 312.87,319.35" fill="#000000"/>
<polygon points="324.93,319.45 327.93,325.05 321.93,325.05" fill="#000000"/>
<polygon points="334.00,325.15 337.00,330.75 331.00,330.75" fill="#000000"/>
<rect x="213.90" y="255.60" width="124.60" height="77.40" fill="none" stroke="#505050" stroke-width="1.1"/>
<line x1="213.90" y1="333.00" x2="213.90" y2="330.50" stroke="#505050" stroke-width="1.1" />
<line x1="213.90" y1="255.60" x2="213.90" y2="258.10" stroke="#505050" stroke-width="1.1" />
<line x1="236.56" y1="333.00" x2="236.56" y2="330.50" stroke="#505050" stroke-width="1.1" />
<line x1="236.56" y1="255.60" x2="236.56" y2="258.10" stroke="#505050" stroke-width="1.1" />
<line x1="259.22" y1="333.00" x2="259.22" y2="330.50" stroke="#505050" stroke-width="1.1" />
<line x1="259.22" y1="255.60" x2="259.22" y2="258.10" stroke="#505050" stroke-width="1.1" />
<line x1="281.88" y1="333.00" x2="281.88" y2="330.50" stroke="#505050" stroke-width="1.1" />
<line x1="281.88" y1="255.60" x2="281.88" y2="258.10" stroke="#505050" stroke-width="1.1" />
<line x1="304.54" y1="333.00" x2="304.54" y2="330.50" stroke="#505050" stroke-width="1.1" />
<line x1="304.54" y1="255.60" x2="304.54" y2="258.10" stroke="#505050" stroke-width="1.1" />
<line x1="327.20" y1="333.00" x2="327.20" y2="330.50" stroke="#505050" stroke-width="1.1" />
<line x1="327.20" y1="255.60" x2="327.20" y2="258.10" stroke="#505050" stroke-width="1.1" />
<line x1="213.90" y1="333.00" x2="216.40" y2="333.00" stroke="#505050" stroke-width="1.1" />
<line x1="338.50" y1="333.00" x2="336.00" y2="333.00" stroke="#505050" stroke-width="1.1" />
<line x1="213.90" y1="298.90" x2="216.40" y2="298.90" stroke="#505050" stroke-width="1.1" />
<line x1="338.50" y1="298.90" x2="336.00" y2="298.90" stroke="#505050" stroke-width="1.1" />
<line x1="213.90" y1="264.80" x2="216.40" y2="264.80" stroke="#505050" stroke-width="1.1" />
<line x1="338.50" y1="264.80" x2="336.00" y2="264.80" stroke="#505050" stroke-width="1.1" />
<text transform="translate(212.00,337.70) scale(0.86,1)" font-family="Liberation Serif" font-size="12" fill="#262626" text-anchor="end">0.6</text>
<text transform="translate(212.00,303.60) scale(0.86,1)" font-family="Liberation Serif" font-size="12" fill="#262626" text-anchor="end">0.8</text>
<text transform="translate(212.00,269.50) scale(0.86,1)" font-family="Liberation Serif" font-size="12" fill="#262626" text-anchor="end">1.0</text>
<text transform="translate(213.90,346.90) scale(0.86,1)" font-family="Liberation Serif" font-size="12" fill="#262626" text-anchor="middle">0.0</text>
<text transform="translate(236.56,346.90) scale(0.86,1)" font-family="Liberation Serif" font-size="12" fill="#262626" text-anchor="middle">0.2</text>
<text transform="translate(259.22,346.90) scale(0.86,1)" font-family="Liberation Serif" font-size="12" fill="#262626" text-anchor="middle">0.4</text>
<text transform="translate(281.88,346.90) scale(0.86,1)" font-family="Liberation Serif" font-size="12" fill="#262626" text-anchor="middle">0.6</text>
<text transform="translate(304.54,346.90) scale(0.86,1)" font-family="Liberation Serif" font-size="12" fill="#262626" text-anchor="middle">0.8</text>
<text transform="translate(327.20,346.90) scale(0.86,1)" font-family="Liberation Serif" font-size="12" fill="#262626" text-anchor="middle">1.0</text>
<text x="276.00" y="358.70" font-family="Liberation Serif" font-size="11" fill="#262626" text-anchor="middle" textLength="21.9" lengthAdjust="spacingAndGlyphs" xml:space="preserve" ><tspan font-style="italic">t</tspan><tspan dy="2.42" font-size="7.92" font-style="italic">f</tspan><tspan dy="-2.42">/</tspan><tspan font-style="italic">t</tspan><tspan dy="2.42" font-size="7.92" font-style="italic">B</tspan></text>
<g transform="translate(191.50,294.20)"><path d="M-2.85,3.6 C-3.2,1.5 -3.3,-1.5 -3.0,-2.9 C-2.6,-4.4 0.0,-4.4 0.45,-2.0 C0.75,-0.4 -1.0,0.8 -2.7,0.55 M-2.3,0.7 C-0.5,1.1 1.3,2.0 3.0,2.9" fill="none" stroke="#262626" stroke-width="1.05" stroke-linecap="round"/><circle cx="-2.6" cy="3.6" r="0.75" fill="#262626"/></g>
<text x="284.30" y="269.80" font-family="Liberation Serif" font-size="11" fill="#262626" text-anchor="start" textLength="43" lengthAdjust="spacingAndGlyphs" xml:space="preserve" ><tspan font-style="italic">g</tspan><tspan dx="-4.87" font-style="italic">˜</tspan><tspan dx="1.21"> = 1.0</tspan><tspan font-style="italic">t</tspan><tspan dy="3.30" font-size="7.92" font-style="italic">B</tspan><tspan dx="-4.84" dy="-8.25" font-size="7.92">−1</tspan></text>
<text x="284.00" y="284.50" font-family="Liberation Serif" font-size="11" fill="#262626" text-anchor="start" textLength="51" lengthAdjust="spacingAndGlyphs" xml:space="preserve" ><tspan font-style="italic">v</tspan><tspan>(</tspan><tspan font-style="italic">t</tspan><tspan dy="2.42" font-size="7.92" font-style="italic">f</tspan><tspan dy="-2.42">) = 1.5c</tspan></text>
<line x1="215.80" y1="305.70" x2="224.00" y2="305.70" stroke="#00ff00" stroke-width="1.5" />
<rect x="217.80" y="303.50" width="4.40" height="4.40" fill="#00ff00"/>
<text x="224.20" y="308.70" font-family="Liberation Serif" font-size="9.2" fill="#262626" text-anchor="start" textLength="45" lengthAdjust="spacingAndGlyphs" xml:space="preserve" ><tspan font-style="italic">m</tspan><tspan> = 0.25</tspan><tspan font-style="italic">m</tspan><tspan dy="2.02" font-size="6.62" font-style="italic">B</tspan></text>
<line x1="215.80" y1="323.90" x2="224.00" y2="323.90" stroke="#000000" stroke-width="1.5" />
<polygon points="220.00,320.77 222.90,326.17 217.10,326.17" fill="#000000"/>
<text x="224.20" y="326.90" font-family="Liberation Serif" font-size="9.2" fill="#262626" text-anchor="start" textLength="45" lengthAdjust="spacingAndGlyphs" xml:space="preserve" ><tspan font-style="italic">m</tspan><tspan> = 0.50</tspan><tspan font-style="italic">m</tspan><tspan dy="2.02" font-size="6.62" font-style="italic">B</tspan></text>
<polyline points="371.60,298.06 374.13,298.27 376.67,298.60 379.20,299.04 381.73,299.58 384.27,300.21 386.80,300.92 389.33,301.72 391.87,302.58 394.40,303.52 396.93,304.51 399.47,305.56 402.00,306.65 404.53,307.80 407.07,308.98 409.60,310.20 412.13,311.46 414.67,312.75 417.20,314.06 419.73,315.40 422.27,316.75 424.80,318.13 427.33,319.52 429.87,320.93 432.40,322.35 434.93,323.78 437.47,325.22 440.00,326.67 442.53,328.12 445.07,329.58 447.60,331.04 450.13,332.51 452.67,333.98 455.20,335.45 457.73,336.92 460.27,338.40 462.80,339.88 465.33,341.35 467.87,342.83 470.40,344.31 472.93,345.79 475.47,347.27 478.00,348.75 480.53,350.24 483.07,351.72 485.60,353.21 488.13,354.70 490.67,356.19 493.20,357.68 495.73,359.18 498.27,360.67 500.80,362.18 503.33,363.68 505.87,365.19 508.40,366.71 510.93,368.23 513.47,369.75 516.00,371.28 518.53,372.82 521.07,374.36 523.60,375.90 526.13,377.46 528.67,379.01 531.20,380.58 533.73,382.15 536.27,383.72 538.80,385.30 541.33,386.89 543.87,388.48 546.40,390.08 548.93,391.68 551.47,393.29 554.00,394.90 556.53,396.51 559.07,398.13 561.60,399.74 564.13,401.37 566.67,402.99 569.20,404.61 571.73,406.23 574.27,407.85 576.80,409.47 579.33,411.08 581.87,412.69 584.40,414.30 586.93,415.90 589.47,417.49 592.00,419.07 594.53,420.65 597.07,422.21 599.60,423.76 602.13,425.30 604.67,426.82 607.20,428.32 609.73,429.81 612.27,431.28 614.80,432.72 617.33,434.15 619.87,435.55 622.40,436.92 624.93,438.27 627.47,439.60 630.00,440.89 632.53,442.15 635.07,443.38 637.60,444.58 640.13,445.74 642.67,446.87 645.20,447.96 647.73,449.01 650.27,450.02 652.80,450.99 655.33,451.92 657.87,452.81 660.40,453.65 662.93,454.45 665.47,455.21 668.00,455.92 670.53,456.59 673.07,457.21 675.60,457.78" fill="none" stroke="#000000" stroke-width="1.7" stroke-linejoin="round"/>
<polyline points="371.60,376.30 675.60,375.60" fill="none" stroke="#ff0000" stroke-width="1.7" stroke-linejoin="round"/>
<rect x="371.50" y="256.25" width="313.00" height="220.25" fill="none" stroke="#505050" stroke-width="1.1"/>
<line x1="371.60" y1="476.50" x2="371.60" y2="473.00" stroke="#505050" stroke-width="1.1" />
<line x1="371.60" y1="256.25" x2="371.60" y2="259.75" stroke="#505050" stroke-width="1.1" />
<line x1="432.40" y1="476.50" x2="432.40" y2="473.00" stroke="#505050" stroke-width="1.1" />
<line x1="432.40" y1="256.25" x2="432.40" y2="259.75" stroke="#505050" stroke-width="1.1" />
<line x1="493.20" y1="476.50" x2="493.20" y2="473.00" stroke="#505050" stroke-width="1.1" />
<line x1="493.20" y1="256.25" x2="493.20" y2="259.75" stroke="#505050" stroke-width="1.1" />
<line x1="554.00" y1="476.50" x2="554.00" y2="473.00" stroke="#505050" stroke-width="1.1" />
<line x1="554.00" y1="256.25" x2="554.00" y2="259.75" stroke="#505050" stroke-width="1.1" />
<line x1="614.80" y1="476.50" x2="614.80" y2="473.00" stroke="#505050" stroke-width="1.1" />
<line x1="614.80" y1="256.25" x2="614.80" y2="259.75" stroke="#505050" stroke-width="1.1" />
<line x1="675.60" y1="476.50" x2="675.60" y2="473.00" stroke="#505050" stroke-width="1.1" />
<line x1="675.60" y1="256.25" x2="675.60" y2="259.75" stroke="#505050" stroke-width="1.1" />
<line x1="371.50" y1="476.30" x2="375.00" y2="476.30" stroke="#505050" stroke-width="1.1" />
<line x1="684.50" y1="476.30" x2="681.00" y2="476.30" stroke="#505050" stroke-width="1.1" />
<line x1="371.50" y1="426.30" x2="375.00" y2="426.30" stroke="#505050" stroke-width="1.1" />
<line x1="684.50" y1="426.30" x2="681.00" y2="426.30" stroke="#505050" stroke-width="1.1" />
<line x1="371.50" y1="376.30" x2="375.00" y2="376.30" stroke="#505050" stroke-width="1.1" />
<line x1="684.50" y1="376.30" x2="681.00" y2="376.30" stroke="#505050" stroke-width="1.1" />
<line x1="371.50" y1="326.30" x2="375.00" y2="326.30" stroke="#505050" stroke-width="1.1" />
<line x1="684.50" y1="326.30" x2="681.00" y2="326.30" stroke="#505050" stroke-width="1.1" />
<line x1="371.50" y1="276.30" x2="375.00" y2="276.30" stroke="#505050" stroke-width="1.1" />
<line x1="684.50" y1="276.30" x2="681.00" y2="276.30" stroke="#505050" stroke-width="1.1" />
<text transform="translate(369.20,481.00) scale(0.86,1)" font-family="Liberation Serif" font-size="12" fill="#262626" text-anchor="end">1.0</text>
<text transform="translate(369.20,431.00) scale(0.86,1)" font-family="Liberation Serif" font-size="12" fill="#262626" text-anchor="end">1.5</text>
<text transform="translate(369.20,381.00) scale(0.86,1)" font-family="Liberation Serif" font-size="12" fill="#262626" text-anchor="end">2.0</text>
<text transform="translate(369.20,331.00) scale(0.86,1)" font-family="Liberation Serif" font-size="12" fill="#262626" text-anchor="end">2.5</text>
<text transform="translate(369.20,281.00) scale(0.86,1)" font-family="Liberation Serif" font-size="12" fill="#262626" text-anchor="end">3.0</text>
<text transform="translate(371.60,490.60) scale(0.86,1)" font-family="Liberation Serif" font-size="12" fill="#262626" text-anchor="middle">0.0</text>
<text transform="translate(432.40,490.60) scale(0.86,1)" font-family="Liberation Serif" font-size="12" fill="#262626" text-anchor="middle">0.1</text>
<text transform="translate(493.20,490.60) scale(0.86,1)" font-family="Liberation Serif" font-size="12" fill="#262626" text-anchor="middle">0.2</text>
<text transform="translate(554.00,490.60) scale(0.86,1)" font-family="Liberation Serif" font-size="12" fill="#262626" text-anchor="middle">0.3</text>
<text transform="translate(614.80,490.60) scale(0.86,1)" font-family="Liberation Serif" font-size="12" fill="#262626" text-anchor="middle">0.4</text>
<text transform="translate(675.60,490.60) scale(0.86,1)" font-family="Liberation Serif" font-size="12" fill="#262626" text-anchor="middle">0.5</text>
<text transform="translate(349.60,265.00) scale(0.93,1)" font-family="Liberation Serif" font-weight="bold" font-size="16.2" fill="#000">D</text>
<text x="527.60" y="503.00" font-family="Liberation Serif" font-size="11" fill="#262626" text-anchor="middle" textLength="17.5" lengthAdjust="spacingAndGlyphs" xml:space="preserve" ><tspan font-style="italic">t</tspan><tspan>/</tspan><tspan font-style="italic">t</tspan><tspan dy="2.42" font-size="7.92" font-style="italic">B</tspan></text>
<g transform="translate(352.6,366.6) rotate(-90)">
<text x="0.00" y="0.00" font-family="Liberation Serif" font-size="11" fill="#262626" text-anchor="middle" textLength="17" lengthAdjust="spacingAndGlyphs" xml:space="preserve" ><tspan font-style="italic">v</tspan><tspan>(</tspan><tspan font-style="italic">t</tspan><tspan>)</tspan></text>
<circle cx="-6.0" cy="-7.2" r="0.75" fill="#262626"/></g>
<text x="397.00" y="276.80" font-family="Liberation Serif" font-size="11" fill="#262626" text-anchor="start" textLength="113" lengthAdjust="spacingAndGlyphs" xml:space="preserve" ><tspan font-style="italic">m</tspan><tspan> = 0.50</tspan><tspan font-style="italic">m</tspan><tspan dy="2.42" font-size="7.92" font-style="italic">B</tspan><tspan dy="-2.42">, </tspan><tspan font-style="italic">v</tspan><tspan>(</tspan><tspan font-style="italic">t</tspan><tspan dy="2.42" font-size="7.92" font-style="italic">f</tspan><tspan dy="-2.42">) = 0.50c</tspan></text>
<line x1="390.00" y1="398.75" x2="398.75" y2="398.75" stroke="#000000" stroke-width="1.7" />
<text x="399.00" y="402.35" font-family="Liberation Serif" font-size="11" fill="#262626" text-anchor="start" textLength="46" lengthAdjust="spacingAndGlyphs" xml:space="preserve" ><tspan font-style="italic">g</tspan><tspan dx="-4.87" font-style="italic">˜</tspan><tspan dx="1.21"> = 1.0/</tspan><tspan font-style="italic">t</tspan><tspan dy="2.42" font-size="7.92" font-style="italic">B</tspan></text>
<line x1="390.00" y1="430.75" x2="398.75" y2="430.75" stroke="#ff0000" stroke-width="1.7" />
<text x="399.00" y="434.35" font-family="Liberation Serif" font-size="11" fill="#262626" text-anchor="start" textLength="46" lengthAdjust="spacingAndGlyphs" xml:space="preserve" ><tspan font-style="italic">g</tspan><tspan dx="-4.87" font-style="italic">˜</tspan><tspan dx="1.21"> = 0.2/</tspan><tspan font-style="italic">t</tspan><tspan dy="2.42" font-size="7.92" font-style="italic">B</tspan></text>
<rect x="550.75" y="256.25" width="133.75" height="82.5" fill="#fff"/>
<polyline points="550.75,338.75 551.78,337.86 552.81,336.97 553.84,336.08 554.88,335.20 555.91,334.31 556.94,333.43 557.97,332.55 559.00,331.67 560.03,330.80 561.06,329.92 562.09,329.06 563.12,328.19 564.16,327.33 565.19,326.47 566.22,325.62 567.25,324.77 568.28,323.92 569.31,323.08 570.34,322.24 571.38,321.41 572.41,320.58 573.44,319.76 574.47,318.94 575.50,318.12 576.53,317.31 577.56,316.51 578.59,315.70 579.62,314.91 580.66,314.12 581.69,313.33 582.72,312.54 583.75,311.77 584.78,310.99 585.81,310.22 586.84,309.46 587.88,308.70 588.91,307.95 589.94,307.20 590.97,306.45 592.00,305.71 593.03,304.98 594.06,304.25 595.09,303.52 596.12,302.80 597.16,302.08 598.19,301.37 599.22,300.66 600.25,299.96 601.28,299.26 602.31,298.57 603.34,297.88 604.38,297.20 605.41,296.52 606.44,295.85 607.47,295.18 608.50,294.52 609.53,293.86 610.56,293.20 611.59,292.56 612.62,291.91 613.66,291.27 614.69,290.64 615.72,290.01 616.75,289.39 617.78,288.77 618.81,288.15 619.84,287.54 620.88,286.94 621.91,286.34 622.94,285.75 623.97,285.16 625.00,284.58 626.03,284.00 627.06,283.42 628.09,282.86 629.12,282.29 630.16,281.74 631.19,281.18 632.22,280.64 633.25,280.10 634.28,279.56 635.31,279.03 636.34,278.50 637.38,277.98 638.41,277.46 639.44,276.95 640.47,276.45 641.50,275.95 642.53,275.45 643.56,274.96 644.59,274.47 645.62,273.99 646.66,273.52 647.69,273.05 648.72,272.58 649.75,272.12 650.78,271.66 651.81,271.21 652.84,270.76 653.88,270.32 654.91,269.88 655.94,269.44 656.97,269.01 658.00,268.58 659.03,268.16 660.06,267.74 661.09,267.32 662.12,266.91 663.16,266.50 664.19,266.09 665.22,265.69 666.25,265.29 667.28,264.89 668.31,264.50 669.34,264.11 670.38,263.72 671.41,263.33 672.44,262.95 673.47,262.57 674.50,262.19" fill="none" stroke="#000000" stroke-width="1.6" stroke-linejoin="round"/>
<polyline points="550.75,338.75 674.50,262.19" fill="none" stroke="#ff0000" stroke-width="1.6" stroke-linejoin="round"/>
<rect x="550.75" y="256.25" width="133.75" height="82.50" fill="none" stroke="#505050" stroke-width="1.1"/>
<line x1="550.75" y1="338.75" x2="550.75" y2="336.25" stroke="#505050" stroke-width="1.1" />
<line x1="550.75" y1="256.25" x2="550.75" y2="258.75" stroke="#505050" stroke-width="1.1" />
<line x1="600.25" y1="338.75" x2="600.25" y2="336.25" stroke="#505050" stroke-width="1.1" />
<line x1="600.25" y1="256.25" x2="600.25" y2="258.75" stroke="#505050" stroke-width="1.1" />
<line x1="649.75" y1="338.75" x2="649.75" y2="336.25" stroke="#505050" stroke-width="1.1" />
<line x1="649.75" y1="256.25" x2="649.75" y2="258.75" stroke="#505050" stroke-width="1.1" />
<line x1="550.75" y1="338.75" x2="553.25" y2="338.75" stroke="#505050" stroke-width="1.1" />
<line x1="684.50" y1="338.75" x2="682.00" y2="338.75" stroke="#505050" stroke-width="1.1" />
<line x1="550.75" y1="308.12" x2="553.25" y2="308.12" stroke="#505050" stroke-width="1.1" />
<line x1="684.50" y1="308.12" x2="682.00" y2="308.12" stroke="#505050" stroke-width="1.1" />
<line x1="550.75" y1="277.50" x2="553.25" y2="277.50" stroke="#505050" stroke-width="1.1" />
<line x1="684.50" y1="277.50" x2="682.00" y2="277.50" stroke="#505050" stroke-width="1.1" />
<text transform="translate(548.20,343.45) scale(0.86,1)" font-family="Liberation Serif" font-size="12" fill="#262626" text-anchor="end">0.0</text>
<text transform="translate(548.20,312.82) scale(0.86,1)" font-family="Liberation Serif" font-size="12" fill="#262626" text-anchor="end">0.2</text>
<text transform="translate(548.20,282.20) scale(0.86,1)" font-family="Liberation Serif" font-size="12" fill="#262626" text-anchor="end">0.4</text>
<text transform="translate(550.75,353.00) scale(0.86,1)" font-family="Liberation Serif" font-size="12" fill="#262626" text-anchor="middle">0.0</text>
<text transform="translate(600.25,353.00) scale(0.86,1)" font-family="Liberation Serif" font-size="12" fill="#262626" text-anchor="middle">0.2</text>
<text transform="translate(649.75,353.00) scale(0.86,1)" font-family="Liberation Serif" font-size="12" fill="#262626" text-anchor="middle">0.4</text>
<text x="617.50" y="364.50" font-family="Liberation Serif" font-size="11" fill="#262626" text-anchor="middle" textLength="17.9" lengthAdjust="spacingAndGlyphs" xml:space="preserve" ><tspan font-style="italic">t</tspan><tspan>/</tspan><tspan font-style="italic">t</tspan><tspan dy="2.42" font-size="7.92" font-style="italic">B</tspan></text>
<g transform="translate(531.4,297.8) rotate(-90)">
<text x="0.00" y="0.00" font-family="Liberation Serif" font-size="11" fill="#262626" text-anchor="middle" textLength="16.5" lengthAdjust="spacingAndGlyphs" xml:space="preserve" ><tspan font-style="italic">v</tspan><tspan>(</tspan><tspan font-style="italic">t</tspan><tspan>)</tspan></text>
</g>
<line x1="625.25" y1="306.25" x2="634.00" y2="306.25" stroke="#000000" stroke-width="1.6" />
<text x="634.50" y="309.85" font-family="Liberation Serif" font-size="11" fill="#262626" text-anchor="start" textLength="45.5" lengthAdjust="spacingAndGlyphs" xml:space="preserve" ><tspan font-style="italic">g</tspan><tspan dx="-4.87" font-style="italic">˜</tspan><tspan dx="1.21"> = 1.0/</tspan><tspan font-style="italic">t</tspan><tspan dy="2.42" font-size="7.92" font-style="italic">B</tspan></text>
<line x1="625.25" y1="320.00" x2="634.00" y2="320.00" stroke="#ff0000" stroke-width="1.6" />
<text x="634.50" y="323.60" font-family="Liberation Serif" font-size="11" fill="#262626" text-anchor="start" textLength="45.5" lengthAdjust="spacingAndGlyphs" xml:space="preserve" ><tspan font-style="italic">g</tspan><tspan dx="-4.87" font-style="italic">˜</tspan><tspan dx="1.21"> = 0.2/</tspan><tspan font-style="italic">t</tspan><tspan dy="2.42" font-size="7.92" font-style="italic">B</tspan></text>
</g></svg></body></html>
